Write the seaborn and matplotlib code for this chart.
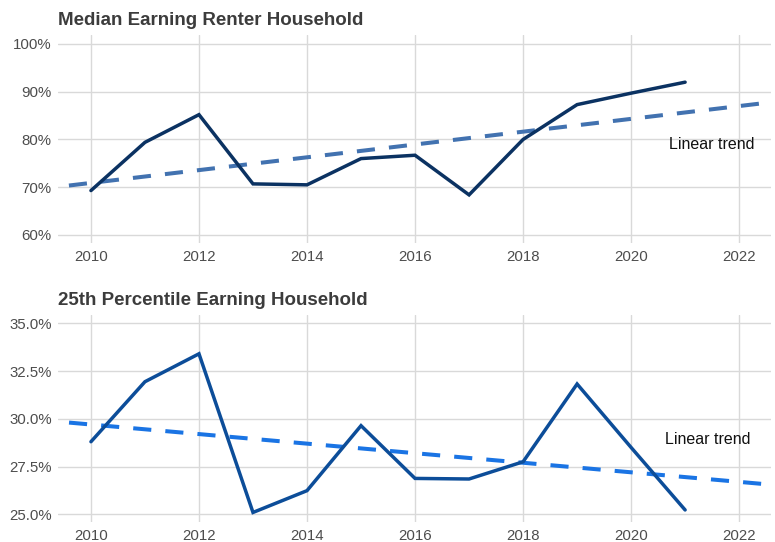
import matplotlib
matplotlib.use("Agg")
import matplotlib.pyplot as plt
import matplotlib.ticker as mticker
import numpy as np
import pandas as pd
import seaborn as sns

# Housing cost burden by year
years = [2010, 2011, 2012, 2013, 2014, 2015, 2016, 2017, 2018, 2019, 2020, 2021]
median_renter = [69.3, 79.4, 85.2, 70.7, 70.5, 76.0, 76.7, 68.4, 80.0, 87.3, 89.7, 92.0]
pct25_household = [28.8, 31.94, 33.4, 25.1, 26.24, 29.64, 26.88, 26.85, 27.75, 31.82, 28.5, 25.23]

# Linear trend lines (value at each end year)
trend_years = [2009, 2023]
median_trend = [69.56, 88.34]
pct25_trend = [29.95, 26.45]

x_ticks = [2010, 2012, 2014, 2016, 2018, 2020, 2022]
median_ticks = [60, 70, 80, 90, 100]
pct25_ticks = [25.0, 27.5, 30.0, 32.5, 35.0]

titles = ["Median Earning Renter Household", "25th Percentile Earning Household"]
trend_label = "Linear trend"

sns.set_theme(style="whitegrid")
plt.rcParams["font.family"] = ["Liberation Sans", "DejaVu Sans"]

W, H = 775, 542
fig = plt.figure(figsize=(W / 100, H / 100), dpi=100)

def px_axes(left, top, right, bottom):
    return fig.add_axes([left / W, 1 - bottom / H, (right - left) / W, (bottom - top) / H])

ax1 = px_axes(58, 35, 771, 243)
ax2 = px_axes(58, 315, 771, 522)

panels = [
    (ax1, median_renter, median_trend, "#0b3262", "#4272b0", median_ticks,
     (58.32, 101.88), "{:.0f}%", (2021.5, 78.95)),
    (ax2, pct25_household, pct25_trend, "#0c4d99", "#1a74e4", pct25_ticks,
     (24.6, 35.43), "{:.1f}%", (2021.41, 28.94)),
]

for (ax, vals, trend, line_c, trend_c, yt, ylim, fmt, lab_pos), title in zip(panels, titles):
    df = pd.DataFrame({"year": years, "value": vals})
    tdf = pd.DataFrame({"year": trend_years, "value": trend})
    sns.lineplot(data=tdf, x="year", y="value", ax=ax, color=trend_c,
                 linewidth=2.9, linestyle=(0, (4.5, 3.5)))
    sns.lineplot(data=df, x="year", y="value", ax=ax, color=line_c,
                 linewidth=2.5, solid_joinstyle="miter")
    ax.text(lab_pos[0], lab_pos[1], trend_label, ha="center", va="center",
            fontsize=11.5, color="#111111")
    ax.set_xlim(2009.39, 2022.59)
    ax.set_ylim(*ylim)
    ax.set_xticks(x_ticks)
    ax.set_yticks(yt)
    ax.yaxis.set_major_formatter(mticker.FuncFormatter(lambda v, p, f=fmt: f.format(v)))
    ax.set_xlabel("")
    ax.set_ylabel("")
    ax.grid(True, color="#d9d9d9", linewidth=1.0)
    for s in ax.spines.values():
        s.set_visible(False)
    ax.tick_params(axis="both", length=0, labelsize=10.8, labelcolor="#4d4d4d")
    ax.tick_params(axis="y", pad=4.5)
    ax.tick_params(axis="x", pad=5)
    ax.set_title(title, loc="left", fontsize=13.5, fontweight="bold",
                 color="#3c3c3c", pad=7)
    ax.set_facecolor("white")

fig.savefig("out.png", dpi=100, facecolor="white")
